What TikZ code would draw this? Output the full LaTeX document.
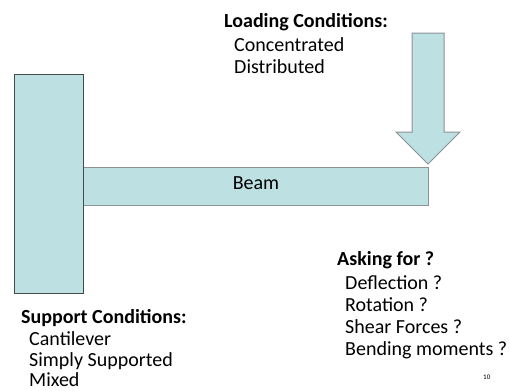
\documentclass[tikz,border=0pt]{standalone}
\usepackage{fontspec}
\setmainfont{Carlito}
\definecolor{boxfill}{RGB}{189,224,227}
\definecolor{darkedge}{RGB}{70,74,76}
\definecolor{lightedge}{RGB}{140,145,147}
\begin{document}
\begin{tikzpicture}[x=1pt,y=-1pt,
  txt/.style={anchor=base west,inner sep=0pt,font=\fontsize{20}{22}\selectfont},
  btxt/.style={txt,font=\fontsize{20}{22}\selectfont\bfseries}]
\useasboundingbox (0,0) rectangle (509,391);
% beam
\draw[lightedge,fill=boxfill,line width=1pt] (82,167) rectangle (428,205);
\node[anchor=base,inner sep=0pt,font=\fontsize{20}{22}\selectfont] (beamlbl) at (256,189) {Beam};
% support
\draw[darkedge,fill=boxfill,line width=1pt] (14,74) rectangle (83,293);
% load arrow
\draw[lightedge,fill=boxfill,line width=1pt,line join=miter]
  (412,33) -- (444,33) -- (444,132) -- (460,132) -- (428,164) -- (396,132) -- (412,132) -- cycle;
% loading conditions
\node[btxt] (load) at (224,27) {Loading Conditions:};
\node[txt] (conc) at (234,51) {Concentrated};
\node[txt] (dist) at (234,73) {Distributed};
% asking for
\node[btxt] (ask) at (337,265) {Asking for ?};
\node[txt] (defl) at (345,289) {Deflection ?};
\node[txt] (rot) at (345,311) {Rotation ?};
\node[txt] (shear) at (345,333) {Shear Forces ?};
\node[txt] (bend) at (345,355) {Bending moments ?};
% support conditions
\node[btxt] (supp) at (21,323) {Support Conditions:};
\node[txt] (cant) at (29,345) {Cantilever};
\node[txt] (simp) at (29,366) {Simply Supported};
\node[txt] (mix) at (29,386) {Mixed};
% page number
\node[anchor=base west,inner sep=0pt,font=\fontsize{7}{8}\selectfont] (pg) at (483,379) {10};
\end{tikzpicture}
\end{document}
